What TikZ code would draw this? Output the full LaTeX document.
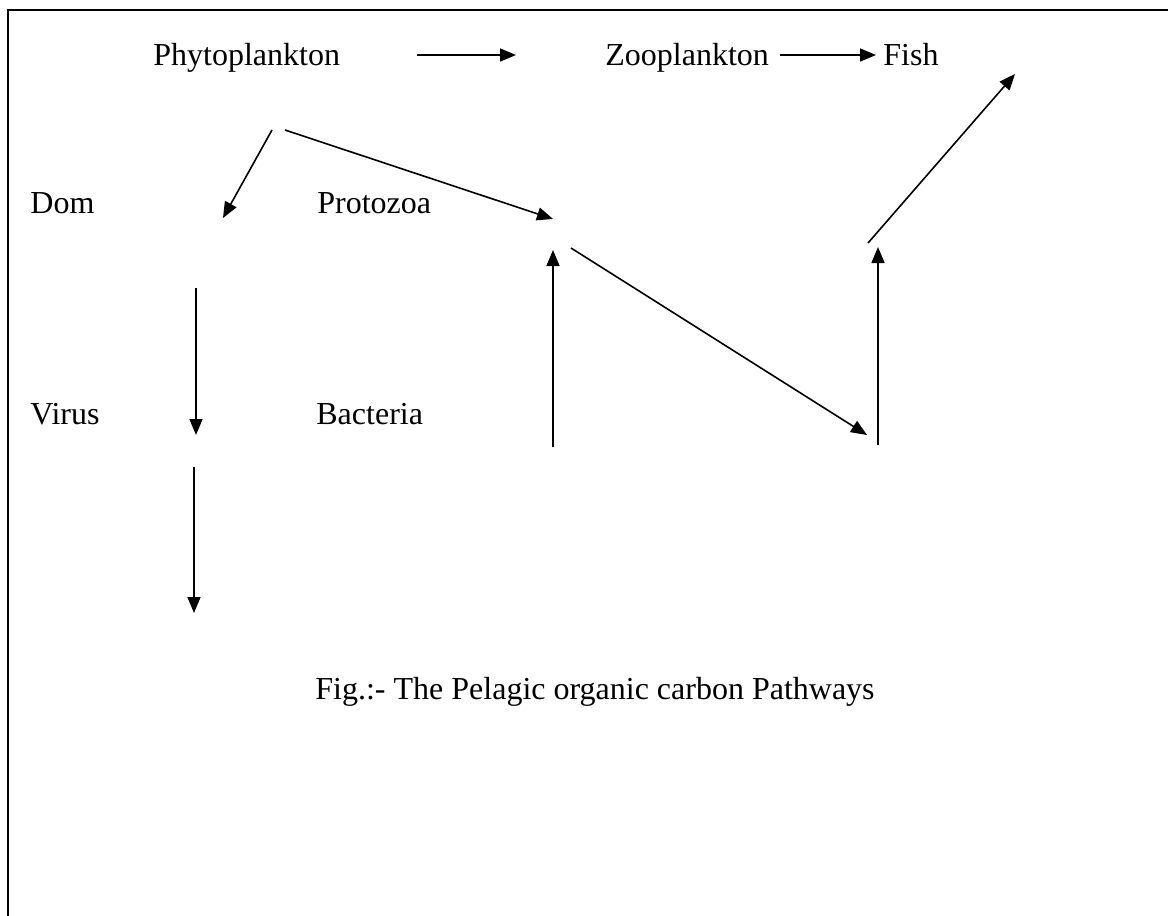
\documentclass[tikz,border=0pt]{standalone}
\usepackage{fontspec}
\setmainfont{Liberation Serif}
\usetikzlibrary{positioning,arrows.meta}
\tikzset{
  lbl/.style={inner sep=0mm, anchor=base west, font=\fontsize{16}{19}\selectfont
  },
  arr/.style={-{Triangle[length=8pt,width=6.5pt]}, line width=0.8pt
  },
  frame/.style={line width=1.2pt
  }
}

\begin{document}
\begin{tikzpicture}[x=0.5pt,y=-0.5pt]
 \useasboundingbox (0,0) rectangle (1168,916);
 \draw[frame] (8,10) rectangle (1240,990);

 \node[lbl] (phyto) at (153,65) {Phytoplankton};
 \node[lbl] (zoo) at (605,65) {Zooplankton};
 \node[lbl] (fish) at (883,65) {Fish};
 \node[lbl] (dom) at (30,213) {Dom};
 \node[lbl] (proto) at (317,213) {Protozoa};
 \node[lbl] (virus) at (30,424) {Virus};
 \node[lbl] (bact) at (316,424) {Bacteria};
 \node[lbl] (cap) at (315,699) {Fig.:- The Pelagic organic carbon Pathways};

 \coordinate (phr) at (417,55);
 \coordinate (zol) at (516,55);
 \coordinate (zor) at (780,55);
 \coordinate (fil) at (876,55);
 \coordinate (spl) at (272,130);
 \coordinate (spr) at (285,130);
 \coordinate (dot) at (223,218);
 \coordinate (prt) at (553,219);
 \coordinate (prb) at (553,250);
 \coordinate (prr) at (571,248);
 \coordinate (bab) at (553,447);
 \coordinate (rlo) at (867,435);
 \coordinate (rub) at (878,445);
 \coordinate (rut) at (878,247);
 \coordinate (fib) at (868,243);
 \coordinate (fit) at (1015,74);
 \coordinate (dvt) at (196,288);
 \coordinate (dvb) at (196,435);
 \coordinate (vbt) at (194,467);
 \coordinate (vbb) at (194,613);

 \draw[arr] (phr) -- (zol);
 \draw[arr] (zor) -- (fil);
 \draw[arr] (spl) -- (dot);
 \draw[arr] (spr) -- (prt);
 \draw[arr] (bab) -- (prb);
 \draw[arr] (prr) -- (rlo);
 \draw[arr] (rub) -- (rut);
 \draw[arr] (fib) -- (fit);
 \draw[arr] (dvt) -- (dvb);
 \draw[arr] (vbt) -- (vbb);
\end{tikzpicture}
\end{document}
